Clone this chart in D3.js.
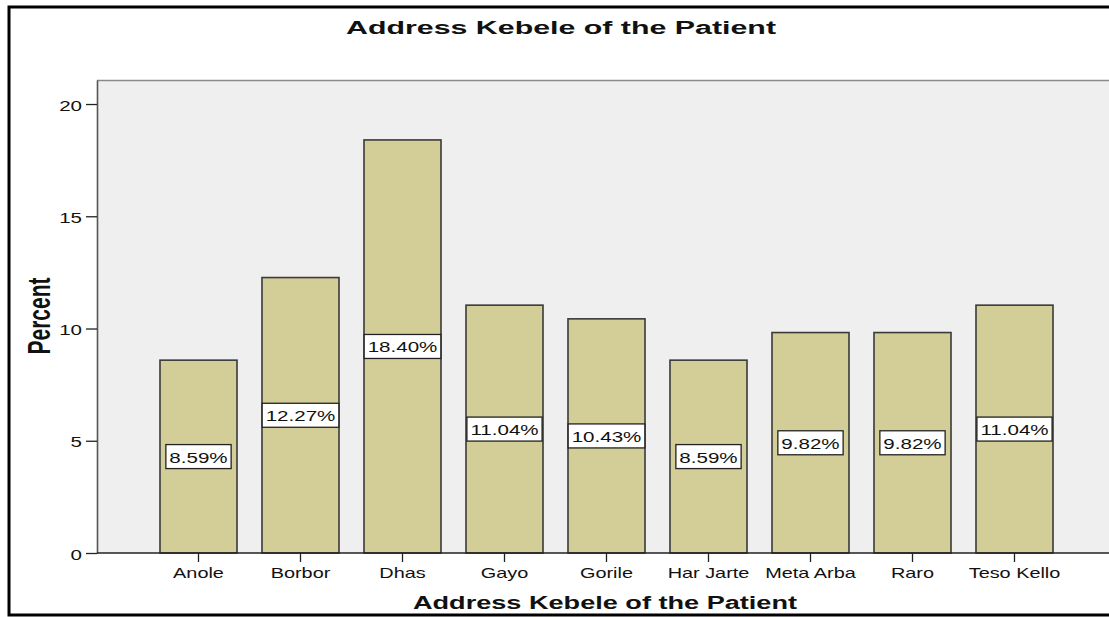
<!DOCTYPE html>
<html>
<head>
<meta charset="utf-8">
<script src="https://cdn.jsdelivr.net/npm/d3@7"></script>
<style>
  html, body { margin: 0; padding: 0; background: #fff; }
  svg { display: block; }
  text { font-family: "Liberation Sans", Arial, sans-serif; fill: #111; }
</style>
</head>
<body>
<svg id="chart" width="1109" height="617"></svg>
<script>
const categories = ["Anole", "Borbor", "Dhas", "Gayo", "Gorile", "Har Jarte", "Meta Arba", "Raro", "Teso Kello"];
const percents = [8.59, 12.27, 18.40, 11.04, 10.43, 8.59, 9.82, 9.82, 11.04];
const labels = ["8.59%", "12.27%", "18.40%", "11.04%", "10.43%", "8.59%", "9.82%", "9.82%", "11.04%"];
const yTicks = [0, 5, 10, 15, 20];
const title = "Address Kebele of the Patient";
const xTitle = "Address Kebele of the Patient";
const yTitle = "Percent";

const SX = 1.37; // horizontal stretch of the reference rendering
const svg = d3.select("#chart");

const plotL = 97, plotR = 1109, plotT = 80, plotB = 553;

const x = d3.scaleBand().domain(categories).range([147.5, 1065.5]).paddingInner(0.245).paddingOuter(0.1225);
const y = d3.scaleLinear().domain([0, 21.07]).range([plotB, plotT]);

// outer frame
svg.append("rect").attr("x", 9).attr("y", 7).attr("width", 1200).attr("height", 608)
  .attr("fill", "none").attr("stroke", "#000").attr("stroke-width", 3);

// plot background
svg.append("rect").attr("x", plotL).attr("y", plotT).attr("width", plotR - plotL + 5).attr("height", plotB - plotT)
  .attr("fill", "#efefef");
svg.append("line").attr("x1", plotL).attr("x2", plotR + 5).attr("y1", plotT + 0.5).attr("y2", plotT + 0.5)
  .attr("stroke", "#8a8a8a").attr("stroke-width", 1.5);

// bars
svg.append("g").selectAll("rect").data(categories).join("rect")
  .attr("x", d => x(d))
  .attr("y", (d, i) => y(percents[i]))
  .attr("width", x.bandwidth())
  .attr("height", (d, i) => y(0) - y(percents[i]))
  .attr("fill", "#d3ce98")
  .attr("stroke", "#3a3a3a")
  .attr("stroke-width", 1.6);

// Y axis
const yAxis = d3.axisLeft(y).tickValues(yTicks).tickSize(11).tickSizeOuter(0).tickFormat(d3.format("d"));
const gy = svg.append("g").attr("transform", `translate(${plotL},0)`).call(yAxis);
gy.select(".domain").attr("stroke", "#555").attr("stroke-width", 1.6);
gy.selectAll(".tick line").attr("stroke", "#222").attr("stroke-width", 1.3);
gy.selectAll(".tick text").each(function(d) {
  const t = d3.select(this);
  t.attr("x", null).attr("dy", null).attr("text-anchor", "end")
   .attr("font-size", 15).attr("fill", "#111").style("font-family", "Liberation Sans, Arial, sans-serif")
   .attr("transform", `translate(-15,6) scale(${SX},1)`);
});

// X axis
const xAxis = d3.axisBottom(x).tickSize(9).tickSizeOuter(0);
const gx = svg.append("g").attr("transform", `translate(0,${plotB})`).call(xAxis);
gx.select(".domain").remove();
gx.append("line").attr("x1", plotL).attr("x2", plotR + 5).attr("y1", 0).attr("y2", 0)
  .attr("stroke", "#222").attr("stroke-width", 1.6);
gx.selectAll(".tick line").attr("stroke", "#222").attr("stroke-width", 1.3);
gx.selectAll(".tick text").each(function(d) {
  const t = d3.select(this);
  t.attr("y", null).attr("dy", null).attr("text-anchor", "middle")
   .attr("font-size", 14.5).attr("fill", "#111").style("font-family", "Liberation Sans, Arial, sans-serif")
   .attr("transform", `translate(0,25) scale(${SX},1)`);
});

// value labels
const lg = svg.append("g").selectAll("g").data(categories).join("g")
  .attr("transform", (d, i) => `translate(${x(d) + x.bandwidth() / 2},${y(percents[i] / 2)})`);
lg.each(function(d, i) {
  const g = d3.select(this);
  const r = g.append("rect");
  const t = g.append("text").text(labels[i]).attr("text-anchor", "middle")
    .attr("font-size", 15).attr("fill", "#111")
    .attr("transform", `translate(0,6) scale(${SX},1)`);
  const w = t.node().getBBox().width * SX + 7;
  r.attr("x", -w / 2).attr("y", -12).attr("width", w).attr("height", 24)
   .attr("fill", "#fff").attr("stroke", "#222").attr("stroke-width", 1.3);
});

// titles
svg.append("text").text(title).attr("x", 561).attr("y", 34).attr("text-anchor", "middle")
  .attr("font-size", 18).attr("font-weight", "bold")
  .attr("textLength", 430).attr("lengthAdjust", "spacingAndGlyphs");

svg.append("text").text(xTitle).attr("x", 605).attr("y", 609).attr("text-anchor", "middle")
  .attr("font-size", 18).attr("font-weight", "bold")
  .attr("textLength", 384).attr("lengthAdjust", "spacingAndGlyphs");

svg.append("g").attr("transform", `translate(50,316) scale(1.46,1)`)
  .append("text").text(yTitle).attr("transform", "rotate(-90)").attr("text-anchor", "middle")
  .attr("font-size", 21).attr("font-weight", "bold");
</script>
</body>
</html>
